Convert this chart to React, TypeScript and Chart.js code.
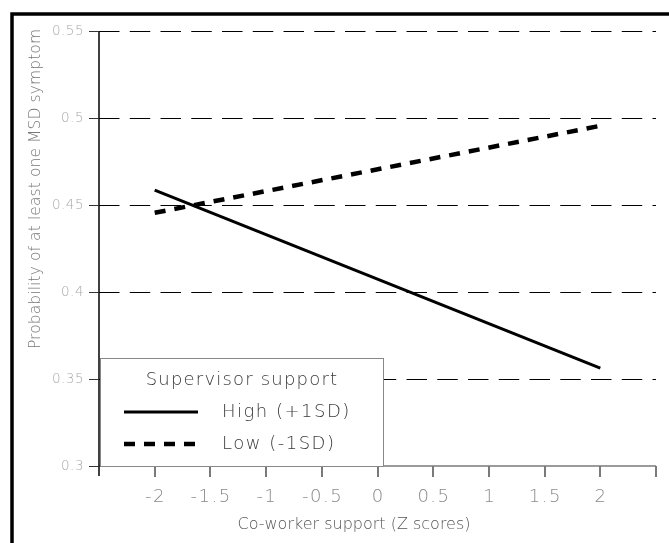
import { useEffect, useRef } from "react";
import { Chart, registerables } from "chart.js";

Chart.register(...registerables);

// ---- data ----
const coworkerZ = [-2, 2];
const highSupport = [0.4586, 0.3563];
const lowSupport = [0.4455, 0.4955];
const seriesNames = ["High (+1SD)", "Low (-1SD)"];
const legendTitle = "Supervisor support";

const yTicks = [0.3, 0.35, 0.4, 0.45, 0.5, 0.55];
const yTickLabels = ["0.3", "0.35", "0.4", "0.45", "0.5", "0.55"];
const xTicks = [-2, -1.5, -1, -0.5, 0, 0.5, 1, 1.5, 2];
const xTickLabels = ["-2", "-1.5", "-1", "-0.5", "0", "0.5", "1", "1.5", "2"];
const xTitle = "Co-worker support (Z scores)";
const yTitle = "Probability of at least one MSD symptom";
const xMin = -2.5;
const xMax = 2.5;
const yMin = 0.3;
const yMax = 0.55;

const FONT = "'DejaVu Sans', 'Liberation Sans', sans-serif";

function spaced(ctx: any, px: number) {
  ctx.letterSpacing = `${px}px`;
}

const decorPlugin = {
  id: "decor",
  beforeDatasetsDraw(chart: any) {
    const ctx = chart.ctx;
    const xs = chart.scales.x;
    const ys = chart.scales.y;
    const left = xs.getPixelForValue(xMin);
    const right = xs.getPixelForValue(xMax);
    const bottom = ys.getPixelForValue(yMin);
    const top = ys.getPixelForValue(yMax);
    ctx.save();
    // outer frame
    ctx.strokeStyle = "#000";
    ctx.lineWidth = 3.5;
    ctx.strokeRect(12, 14, 700, 600);
    // dashed grid
    ctx.lineWidth = 1;
    ctx.strokeStyle = "#000";
    ctx.setLineDash([20.5, 10.25]);
    for (const v of yTicks) {
      if (v === yMin) continue;
      const y = Math.round(ys.getPixelForValue(v)) + 0.5;
      ctx.beginPath();
      ctx.moveTo(left, y);
      ctx.lineTo(right, y);
      ctx.stroke();
    }
    ctx.setLineDash([]);
    // x axis
    ctx.strokeStyle = "#7a7a7a";
    ctx.lineWidth = 1.5;
    ctx.beginPath();
    ctx.moveTo(left, bottom);
    ctx.lineTo(right, bottom);
    ctx.stroke();
    ctx.lineWidth = 2;
    for (const v of [...xTicks, xMax]) {
      const x = Math.round(xs.getPixelForValue(v));
      ctx.beginPath();
      ctx.moveTo(x, bottom);
      ctx.lineTo(x, bottom + 11);
      ctx.stroke();
    }
    // y axis
    ctx.strokeStyle = "#000";
    ctx.lineWidth = 1.5;
    ctx.beginPath();
    ctx.moveTo(left, top);
    ctx.lineTo(left, bottom + 10);
    ctx.stroke();
    ctx.strokeStyle = "#333";
    ctx.lineWidth = 1;
    for (const v of yTicks) {
      const y = Math.round(ys.getPixelForValue(v)) + 0.5;
      ctx.beginPath();
      ctx.moveTo(left - 10, y);
      ctx.lineTo(left, y);
      ctx.stroke();
    }
    // tick labels
    ctx.fillStyle = "#a8a8a8";
    ctx.font = `200 13.5px ${FONT}`;
    spaced(ctx, 0.5);
    ctx.textAlign = "right";
    ctx.textBaseline = "middle";
    yTicks.forEach((v, i) => {
      ctx.fillText(yTickLabels[i], left - 15, ys.getPixelForValue(v));
    });
    ctx.fillStyle = "#8a8a8a";
    ctx.font = `200 18px ${FONT}`;
    spaced(ctx, 1.5);
    ctx.textAlign = "center";
    xTicks.forEach((v, i) => {
      ctx.fillText(xTickLabels[i], xs.getPixelForValue(v) + 0.75, bottom + 31);
    });
    // axis titles
    spaced(ctx, 0);
    ctx.fillStyle = "#555";
    ctx.font = `200 16px ${FONT}`;
    ctx.fillText(xTitle, 354, bottom + 59);
    ctx.save();
    ctx.translate(36, 189);
    ctx.rotate(-Math.PI / 2);
    ctx.fillStyle = "#777";
    ctx.font = `200 15.5px ${FONT}`;
    spaced(ctx, 0.1);
    ctx.fillText(yTitle, 0, 0);
    ctx.restore();
    ctx.restore();
  },
  afterDatasetsDraw(chart: any) {
    const ctx = chart.ctx;
    const xs = chart.scales.x;
    const ys = chart.scales.y;
    const bx = xs.getPixelForValue(xMin) + 1;
    const by = ys.getPixelForValue(yMin) - 108;
    const bw = 283;
    const bh = 108;
    ctx.save();
    ctx.fillStyle = "#fff";
    ctx.fillRect(bx, by, bw, bh);
    ctx.strokeStyle = "#888";
    ctx.lineWidth = 1;
    ctx.strokeRect(bx + 0.5, by + 0.5, bw, bh);
    ctx.fillStyle = "#3a3a3a";
    ctx.font = `200 18px ${FONT}`;
    spaced(ctx, 1.2);
    ctx.textBaseline = "middle";
    ctx.textAlign = "left";
    const tw = ctx.measureText(legendTitle).width;
    ctx.fillText(legendTitle, bx + 142 - tw / 2, by + 22);
    spaced(ctx, 1.5);
    const ds = chart.data.datasets;
    const rows = [by + 54, by + 86];
    ds.forEach((d: any, i: number) => {
      ctx.strokeStyle = "#000";
      ctx.lineWidth = d.borderWidth;
      ctx.setLineDash(d.borderDash || []);
      ctx.beginPath();
      ctx.moveTo(bx + 24, rows[i]);
      ctx.lineTo(bx + 98, rows[i]);
      ctx.stroke();
      ctx.setLineDash([]);
      ctx.fillText(seriesNames[i], bx + 122, rows[i]);
    });
    ctx.restore();
  },
};

export default function App() {
  const ref = useRef<HTMLCanvasElement>(null);
  useEffect(() => {
    document.body.style.margin = "0";
    const canvas = ref.current!;
    const chart = new Chart(canvas, {
      type: "line",
      data: {
        datasets: [
          {
            label: seriesNames[0],
            data: coworkerZ.map((x, i) => ({ x, y: highSupport[i] })),
            borderColor: "#000",
            borderWidth: 3,
            pointRadius: 0,
            borderCapStyle: "butt",
          },
          {
            label: seriesNames[1],
            data: coworkerZ.map((x, i) => ({ x, y: lowSupport[i] })),
            borderColor: "#000",
            borderWidth: 4.5,
            borderDash: [11, 9],
            pointRadius: 0,
            borderCapStyle: "butt",
          },
        ],
      },
      options: {
        animation: false,
        responsive: false,
        devicePixelRatio: 1,
        layout: { padding: { left: 99, top: 31, right: 13, bottom: 77 } },
        plugins: { legend: { display: false }, tooltip: { enabled: false } },
        scales: {
          x: { type: "linear", min: xMin, max: xMax, display: false },
          y: { type: "linear", min: yMin, max: yMax, display: false },
        },
      },
      plugins: [decorPlugin],
    } as any);
    return () => chart.destroy();
  }, []);
  return <canvas ref={ref} width={669} height={543} style={{ display: "block" }} />;
}
